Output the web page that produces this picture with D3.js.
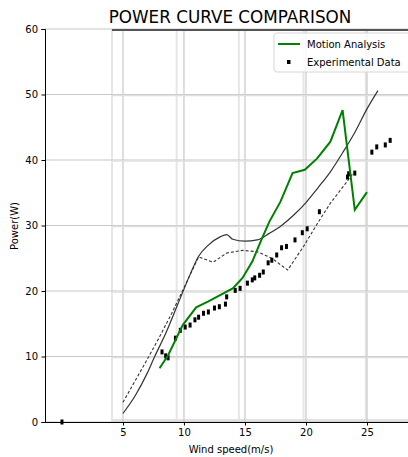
<!DOCTYPE html>
<html>
<head>
<meta charset="utf-8">
<script src="https://cdn.jsdelivr.net/npm/d3@7"></script>
<style>
  html, body { margin: 0; padding: 0; background: #fff; }
  svg { display: block; font-family: "DejaVu Sans", sans-serif; }
</style>
</head>
<body>
<script>
// Motion Analysis (green line)
const motionWind = [8, 8.7, 9.3, 9.9, 11, 12, 13, 14, 14.8, 15.6, 16.3, 17, 17.9, 18.9, 19.9, 20.9, 22, 23, 24, 25];
const motionPower = [8.2, 10.2, 12.5, 14.8, 17.5, 18.4, 19.4, 20.4, 22, 24.5, 27.6, 30.6, 33.6, 38, 38.5, 40.2, 42.8, 47.6, 32.4, 35.1];

// Experimental Data (black markers)
const expWind = [0, 8.2, 8.5, 8.7, 9.3, 9.7, 10.1, 10.5, 10.9, 11.2, 11.6, 12.0, 12.5, 12.9, 13.4,
  13.5, 14.2, 14.6, 15.2, 15.6, 15.8, 16.2, 16.5, 16.9, 17.2, 17.6, 18.0, 18.4, 19.1, 19.7, 20.1,
  21.1, 23.4, 23.5, 24.0, 25.4, 25.8, 26.5, 26.9];
const expPower = [0, 10.7, 10.1, 9.8, 12.8, 14, 14.5, 14.8, 15.6, 16.0, 16.6, 16.8, 17.4, 17.6, 18.0,
  19.1, 20.1, 20.4, 21.2, 21.7, 22, 22.4, 22.9, 24.3, 24.7, 25.5, 26.6, 26.8, 27.8, 28.9, 29.5,
  32.1, 37.4, 37.9, 38, 41.2, 42, 42.3, 43];

// background reference curves (from the pasted image)
const upperWind = [5, 6, 7, 7.6, 8.5, 9.5, 10.5, 11.2, 12, 13, 13.5, 14, 15, 16, 17, 18, 19, 20, 21, 22, 23, 24, 25, 25.9];
const upperPower = [1.3, 4, 7.5, 10, 13.5, 18, 22.5, 25.3, 27, 28.3, 28.6, 27.9, 27.6, 27.8, 28.8, 30, 31.6, 33.5, 35.8, 38.2, 41.1, 44.2, 47.8, 50.6];
const lowerWind = [5, 6, 7, 8, 9, 10, 11.2, 12.4, 13.5, 14.8, 16, 17.2, 18.5, 19.8, 20.9, 22, 23.4, 23.8];
const lowerPower = [3, 6.3, 9.6, 13, 16.6, 20.5, 25.2, 24.4, 25.8, 26.2, 26, 25, 23.2, 26.8, 30.2, 33.4, 36.8, 37.8];

const xTicks = [5, 10, 15, 20, 25];
const yTicks = [0, 10, 20, 30, 40, 50, 60];
const imgGridX = [4.1, 9.4, 14.5, 19.8, 24.9];

const W = 408, H = 457;
const mLeft = 45, mRight = 407, mTop = 29, mBottom = 422;

const svg = d3.select("body").append("svg").attr("width", W).attr("height", H);

const x = d3.scaleLinear().domain([-1.39, 28.28]).range([mLeft, mRight]);
const y = d3.scaleLinear().domain([0, 60]).range([mBottom, mTop]);

// image area background grid (faint)
const imgLeft = x(4.1);
imgGridX.forEach((v) => {
  svg.append("line")
    .attr("x1", x(v)).attr("x2", x(v)).attr("y1", mTop).attr("y2", mBottom)
    .attr("stroke", "#e6e6e6").attr("stroke-width", 2);
});
svg.append("line")
  .attr("x1", imgLeft).attr("x2", W).attr("y1", mBottom - 1.5).attr("y2", mBottom - 1.5)
  .attr("stroke", "#e2e2e2").attr("stroke-width", 3);

// main grid
svg.append("g").selectAll("line").data(xTicks).enter().append("line")
  .attr("x1", (d) => x(d)).attr("x2", (d) => x(d))
  .attr("y1", mTop).attr("y2", mBottom)
  .attr("stroke", "#c8c8c8").attr("stroke-width", 1.2);
svg.append("g").selectAll("line").data(yTicks).enter().append("line")
  .attr("x1", mLeft).attr("x2", W)
  .attr("y1", (d) => y(d)).attr("y2", (d) => y(d))
  .attr("stroke", "#c8c8c8").attr("stroke-width", 1.2);
yTicks.slice(1, -1).forEach((v) => {
  svg.append("line")
    .attr("x1", imgLeft).attr("x2", W).attr("y1", y(v) + 1).attr("y2", y(v) + 1)
    .attr("stroke", "#e0e0e0").attr("stroke-width", 1.5);
});

// image top border
svg.append("line")
  .attr("x1", imgLeft).attr("x2", W).attr("y1", mTop + 1).attr("y2", mTop + 1)
  .attr("stroke", "#555").attr("stroke-width", 2);

// reference curves
const line = d3.line().x((d) => x(d[0])).y((d) => y(d[1])).curve(d3.curveMonotoneX);
svg.append("path")
  .datum(upperWind.map((w, i) => [w, upperPower[i]]))
  .attr("d", line).attr("fill", "none")
  .attr("stroke", "#333").attr("stroke-width", 1.2);
svg.append("path")
  .datum(lowerWind.map((w, i) => [w, lowerPower[i]]))
  .attr("d", d3.line().x((d) => x(d[0])).y((d) => y(d[1])))
  .attr("fill", "none")
  .attr("stroke", "#333").attr("stroke-width", 1.1)
  .attr("stroke-dasharray", "3,2");

// experimental markers
svg.append("g").selectAll("rect")
  .data(expWind.map((w, i) => [w, expPower[i]]))
  .enter().append("rect")
  .attr("x", (d) => x(d[0]) - 1.5)
  .attr("y", (d) => y(d[1]) - 2.5)
  .attr("width", 3).attr("height", 5)
  .attr("fill", "#000");

// motion analysis
svg.append("path")
  .datum(motionWind.map((w, i) => [w, motionPower[i]]))
  .attr("d", d3.line().x((d) => x(d[0])).y((d) => y(d[1])))
  .attr("fill", "none")
  .attr("stroke", "green").attr("stroke-width", 2);

// axes
const xAxis = d3.axisBottom(x).tickValues(xTicks).tickSize(3.5).tickPadding(3.5);
const gx = svg.append("g").attr("transform", "translate(0," + mBottom + ")").call(xAxis);
gx.select(".domain").attr("d", "M" + mLeft + ",0.5H" + W);
const yAxis = d3.axisLeft(y).tickValues(yTicks).tickSize(3.5).tickPadding(3.5);
const gy = svg.append("g").attr("transform", "translate(" + mLeft + ",0)").call(yAxis);
[gx, gy].forEach((g) => {
  g.selectAll("text").attr("font-family", "DejaVu Sans").attr("font-size", 10).attr("fill", "#000");
  g.select(".domain").attr("stroke", "#000").attr("stroke-width", 1);
});

// labels
svg.append("text").attr("x", 230).attr("y", 23).attr("text-anchor", "middle")
  .attr("font-size", 16.8).text("POWER CURVE COMPARISON");
svg.append("text").attr("x", 231).attr("y", 453).attr("text-anchor", "middle")
  .attr("font-size", 10).text("Wind speed(m/s)");
svg.append("text")
  .attr("transform", "translate(18," + 226 + ") rotate(-90)")
  .attr("text-anchor", "middle").attr("font-size", 10).text("Power(W)");

// legend
const lg = svg.append("g").attr("transform", "translate(274,33)");
lg.append("rect").attr("x", 0).attr("y", 0).attr("width", 150).attr("height", 39)
  .attr("rx", 3).attr("fill", "#fff").attr("fill-opacity", 0.85)
  .attr("stroke", "#d6d6d6").attr("stroke-width", 1);
lg.append("line").attr("x1", 4).attr("x2", 26).attr("y1", 11).attr("y2", 11)
  .attr("stroke", "green").attr("stroke-width", 2);
lg.append("text").attr("x", 33).attr("y", 15).attr("font-size", 10).text("Motion Analysis");
lg.append("rect").attr("x", 13).attr("y", 27).attr("width", 3.5).attr("height", 4).attr("fill", "#000");
lg.append("text").attr("x", 33).attr("y", 33).attr("font-size", 10).text("Experimental Data");
</script>
</body>
</html>
